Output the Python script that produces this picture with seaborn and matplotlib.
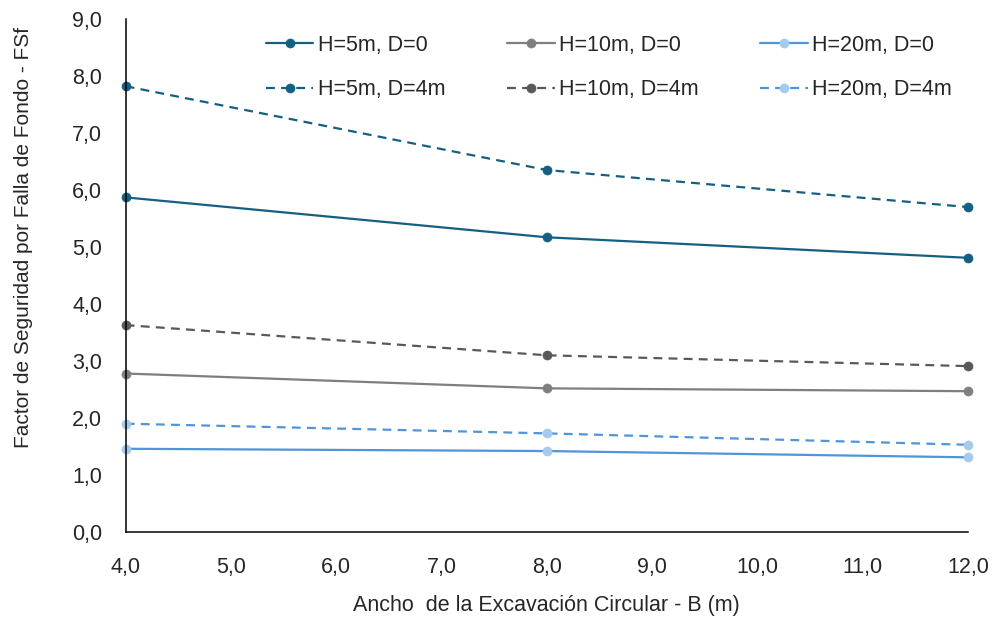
import pandas as pd
import matplotlib
matplotlib.use('Agg')
import matplotlib.pyplot as plt
import seaborn as sns
from matplotlib.ticker import FuncFormatter, MultipleLocator

# Datos
ancho = [4.0, 8.0, 12.0]
fsf_h5_d0 = [5.87, 5.17, 4.81]
fsf_h10_d0 = [2.78, 2.52, 2.47]
fsf_h20_d0 = [1.46, 1.42, 1.31]
fsf_h5_d4 = [7.82, 6.35, 5.70]
fsf_h10_d4 = [3.63, 3.10, 2.91]
fsf_h20_d4 = [1.90, 1.73, 1.53]

series = [
    ('H=5m, D=0', fsf_h5_d0, '#156082', '#156082', '-'),
    ('H=5m, D=4m', fsf_h5_d4, '#156082', '#156082', (0, (4, 2.8))),
    ('H=10m, D=0', fsf_h10_d0, '#7f7f7f', '#7f7f7f', '-'),
    ('H=10m, D=4m', fsf_h10_d4, '#595959', '#595959', (0, (4, 2.8))),
    ('H=20m, D=0', fsf_h20_d0, '#4e95d9', '#a6caec', '-'),
    ('H=20m, D=4m', fsf_h20_d4, '#4e95d9', '#a6caec', (0, (4, 2.8))),
]

sns.set_theme(style="white")
plt.rcParams['font.family'] = ['Liberation Sans', 'DejaVu Sans']

fig = plt.figure(figsize=(9.95, 6.22), dpi=100)
ax = fig.add_axes([0.1263, 0.1447, 0.8465, 0.8248])

for name, vals, lc, mc, ls in series:
    df = pd.DataFrame({'B': ancho, 'FSf': vals})
    sns.lineplot(data=df, x='B', y='FSf', ax=ax, color=lc, linestyle=ls,
                 linewidth=1.6, marker='o', markersize=6.5,
                 markerfacecolor=mc, markeredgecolor=mc, markeredgewidth=0.5,
                 label=name, clip_on=False)

ax.set_xlim(4, 12)
ax.set_ylim(0, 9)
ax.xaxis.set_major_locator(MultipleLocator(1))
ax.yaxis.set_major_locator(MultipleLocator(1))
fmt = FuncFormatter(lambda v, p: f"{v:.1f}".replace('.', ','))
ax.xaxis.set_major_formatter(fmt)
ax.yaxis.set_major_formatter(fmt)
ax.tick_params(axis='both', length=0, labelsize=15.5, colors='#262626')
ax.tick_params(axis='y', pad=17)
ax.tick_params(axis='x', pad=18)

for s in ['top', 'right']:
    ax.spines[s].set_visible(False)
for s in ['left', 'bottom']:
    ax.spines[s].set_color('black')
    ax.spines[s].set_linewidth(1.1)

ax.set_xlabel('Ancho  de la Excavación Circular - B (m)', fontsize=15.5, color='#262626')
ax.set_ylabel('Factor de Seguridad por Falla de Fondo - FSf', fontsize=15, color='#262626')
ax.xaxis.set_label_coords(0.5, -0.123)
ax.yaxis.set_label_coords(-0.110, 0.575)

handles, labels = ax.get_legend_handles_labels()
ax.legend(handles, labels, ncol=3, loc='upper left',
          bbox_to_anchor=(266 / 995, 1 - 35 / 622), bbox_transform=fig.transFigure,
          frameon=False, fontsize=15.5, borderpad=0, borderaxespad=0,
          handlelength=2.2, handletextpad=0.2, columnspacing=2.88,
          labelspacing=1.09, labelcolor='#262626')

plt.savefig('out.png', dpi=100)
